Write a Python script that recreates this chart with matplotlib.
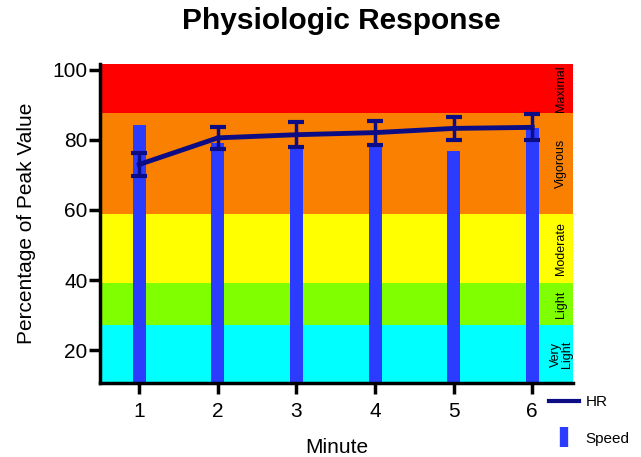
"""
Physiologic response chart: HR vs speed over minutes, with intensity zones
"""
import matplotlib.pyplot as plt
from matplotlib.lines import Line2D

plt.rcParams["font.family"] = ["Liberation Sans", "DejaVu Sans"]

# Data
minutes = [1, 2, 3, 4, 5, 6]
speed = [84.3, 79.1, 78.0, 78.7, 76.9, 83.3]
hr = [73.0, 80.6, 81.5, 82.1, 83.3, 83.6]
hr_err = [3.4, 3.2, 3.5, 3.4, 3.3, 3.7]

zone_names = ["Very\nLight", "Light", "Moderate", "Vigorous", "Maximal"]
zone_edges = [0, 27.1, 39.1, 58.9, 87.7, 101.7]
zone_colors = ["#00ffff", "#80ff00", "#ffff00", "#f98000", "#ff0000"]

fig = plt.figure(figsize=(6.41, 4.57), dpi=100)
ax = fig.add_axes([0.156, 0.162, 0.738, 0.698])

# Zones
for lo, hi, c, name in zip(zone_edges[:-1], zone_edges[1:], zone_colors, zone_names):
    ax.axhspan(lo, hi, color=c, zorder=0, lw=0)
    mid = (max(lo, 10.6) + hi) / 2
    ax.text(6.37, mid, name, rotation=90, ha="center", va="center",
            fontsize=9, linespacing=0.9, zorder=5)

# Speed bars
ax.bar(minutes, speed, width=0.165, color="#2b3cff", zorder=2)

# HR line with error bars
ax.errorbar(minutes, hr, yerr=hr_err, color="#0c0c84", lw=3.5,
            elinewidth=2.5, capsize=6, capthick=3, zorder=3)

ax.set_xlim(0.5, 6.52)
ax.set_ylim(10.6, 101.7)
ax.set_xticks(minutes)
ax.set_yticks([20, 40, 60, 80, 100])

for side in ["top", "right"]:
    ax.spines[side].set_visible(False)
for side in ["left", "bottom"]:
    ax.spines[side].set_linewidth(2.5)
ax.tick_params(axis="both", length=8, width=2.5, labelsize=15, pad=1)
ax.tick_params(axis="x", pad=6)

ax.set_xlabel("Minute", fontsize=15, labelpad=12)
ax.set_ylabel("Percentage of Peak Value", fontsize=15, labelpad=12)
fig.suptitle("Physiologic Response", fontsize=21.5, fontweight="bold",
             x=0.532, y=0.985)

handles = [
    Line2D([], [], color="#0c0c84", lw=3),
    Line2D([], [], color="#2b3cff", lw=0, marker="|", markersize=15,
           markeredgewidth=6),
]
fig.legend(handles, ["HR", "Speed"], loc="upper left",
           bbox_to_anchor=(0.835, 0.166), frameon=False, fontsize=11,
           handlelength=1.95, handletextpad=0.45, labelspacing=1.5)

plt.savefig("out.png", dpi=100)
